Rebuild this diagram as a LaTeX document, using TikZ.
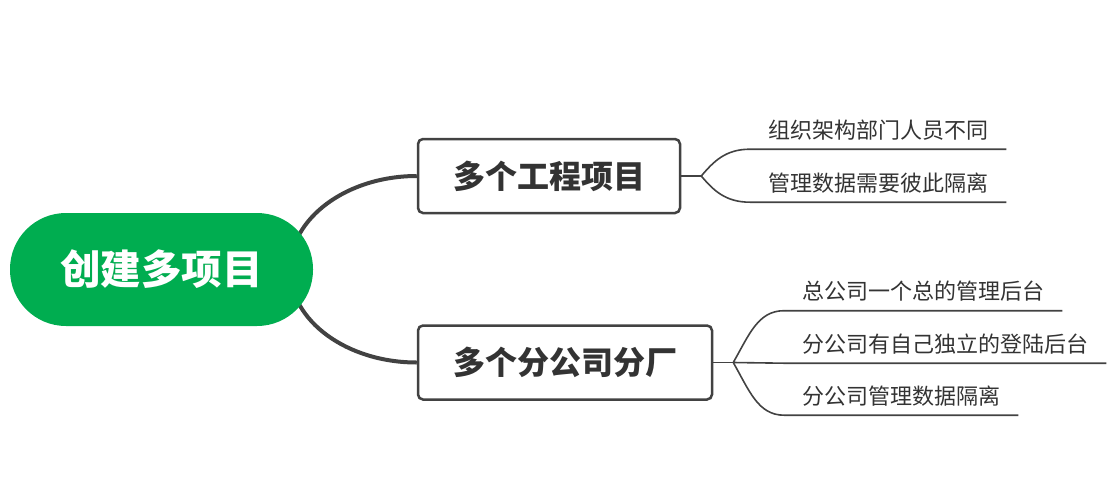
\documentclass[tikz,border=0pt]{standalone}
\usepackage{fontspec}
\newfontfamily\cjk{Noto Sans CJK SC}
\usetikzlibrary{calc,backgrounds}
\definecolor{rootgreen}{RGB}{0,173,80}
\definecolor{linegray}{RGB}{66,66,66}
\definecolor{txtgray}{RGB}{51,51,51}
\tikzset{
  rootnode/.style={fill=rootgreen, rounded corners=56pt, minimum width=303pt, minimum height=113pt,
    text=white, font=\cjk\bfseries\fontsize{40.5pt}{40.5pt}\selectfont, inner sep=0pt},
  mainbox/.style={draw=linegray, line width=2.5pt, rounded corners=5pt, fill=white,
    minimum height=74pt, text=txtgray, font=\cjk\bfseries\fontsize{32pt}{32pt}\selectfont, inner sep=0pt},
  leaf/.style={anchor=base west, text=txtgray, font=\cjk\fontsize{22pt}{22pt}\selectfont,
    inner xsep=18pt, inner ysep=0pt, text height=15pt, text depth=11pt},
  thickconn/.style={draw=linegray, line width=4pt},
  thinconn/.style={draw=linegray, line width=1.6pt},
}
\begin{document}
\begin{tikzpicture}[x=1pt,y=-1pt]
\useasboundingbox (0,0) rectangle (1115,485);
% root
\node[rootnode] (root) at (161.5,269.5) {创建多项目};
\coordinate (rc) at (290,269.5);
% main topics
\node[mainbox, minimum width=262pt] (b1) at (549,176) {多个工程项目};
\node[mainbox, minimum width=294pt] (b2) at (565,362.5) {多个分公司分厂};
% forks
\coordinate (f1) at ($(b1.east)+(20,0)$);
\coordinate (f2) at ($(b2.east)+(20,0)$);
% leaves
\node[leaf] (l11) at (750,138) {组织架构部门人员不同};
\node[leaf] (l12) at (750,191) {管理数据需要彼此隔离};
\node[leaf] (l21) at (784,299.5) {总公司一个总的管理后台};
\node[leaf] (l22) at (784,352) {分公司有自己独立的登陆后台};
\node[leaf] (l23) at (784,404) {分公司管理数据隔离};
\begin{scope}[on background layer]
  \draw[thickconn] (rc) .. controls (290,218) and (347,176) .. (b1.west);
  \draw[thickconn] (rc) .. controls (290,321) and (347,362.5) .. (b2.west);
\end{scope}
\draw[thinconn] (b1.east) -- (f1);
\draw[thinconn] (b2.east) -- (f2);
\draw[thinconn] (f1) .. controls ($(f1)+(12,-14)$) and ($(l11.south west)+(-25,0)$) .. (l11.south west) -- (l11.south east);
\draw[thinconn] (f1) .. controls ($(f1)+(12,14)$) and ($(l12.south west)+(-25,0)$) .. (l12.south west) -- (l12.south east);
\draw[thinconn] (f2) .. controls ($(f2)+(16,-28)$) and ($(l21.south west)+(-26,0)$) .. (l21.south west) -- (l21.south east);
\draw[thinconn] (f2) -- (l22.south west) -- (l22.south east);
\draw[thinconn] (f2) .. controls ($(f2)+(16,28)$) and ($(l23.south west)+(-26,0)$) .. (l23.south west) -- (l23.south east);
\end{tikzpicture}
\end{document}
